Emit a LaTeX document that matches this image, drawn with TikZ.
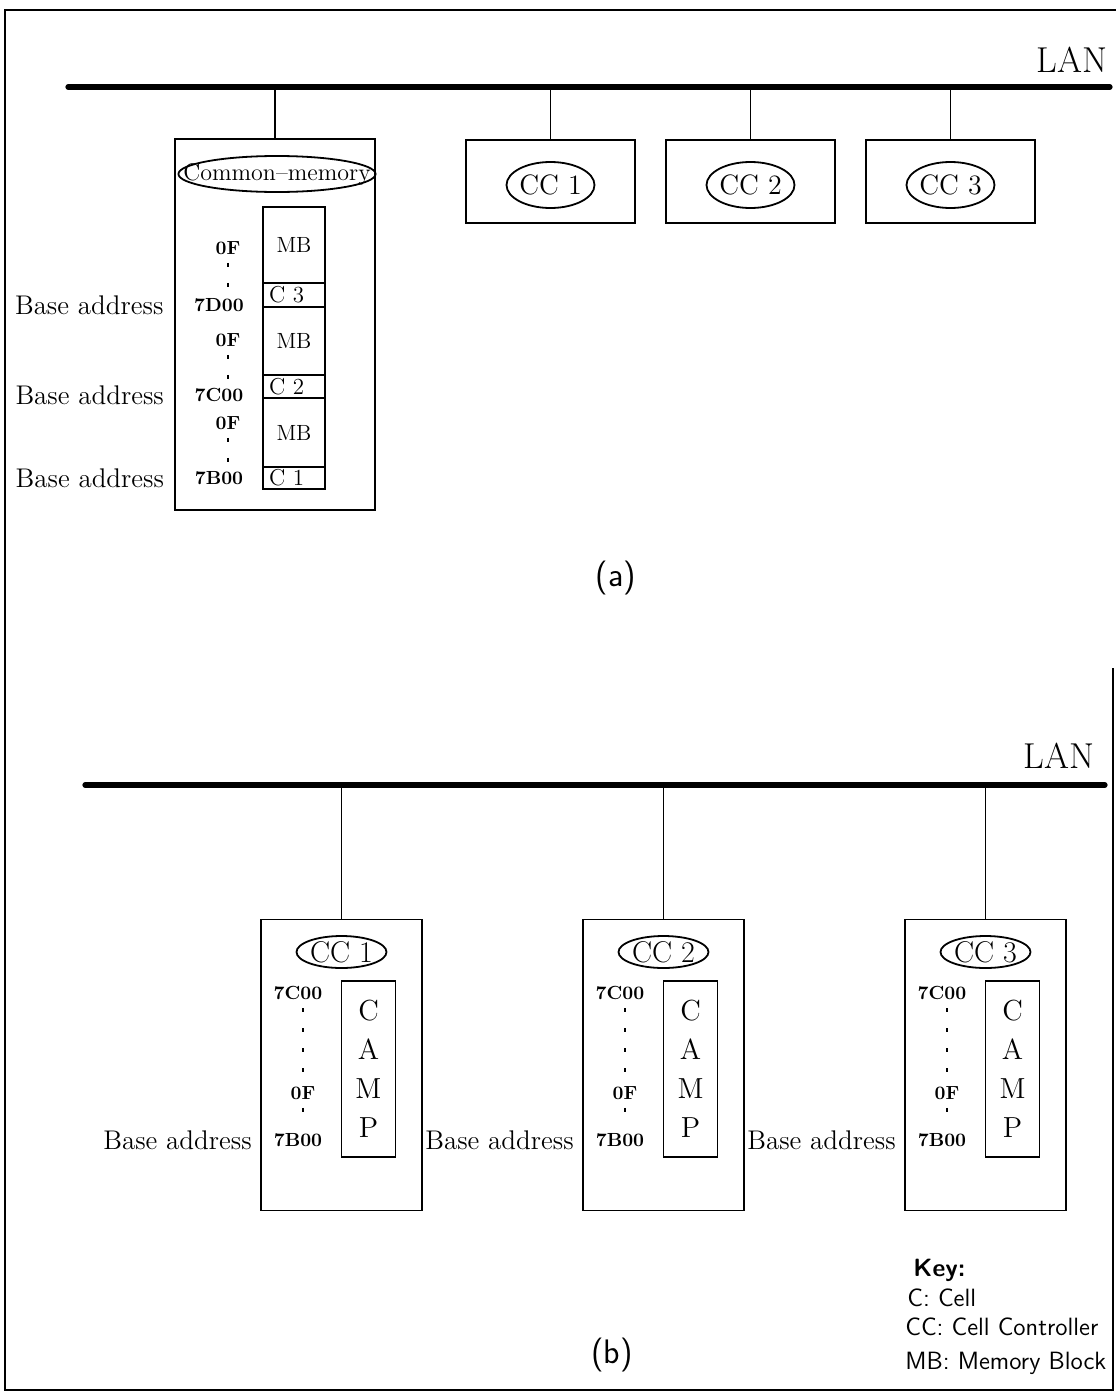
\documentclass[tikz,border=0pt]{standalone}
\usepackage{tikz}
\usetikzlibrary{positioning,shapes.geometric}
\newcommand{\fsz}[1]{\fontsize{#1}{#1}\selectfont}
% one cell controller of part (b): name, left edge, number
\newcommand{\cellunit}[3]{%
  \node[box, minimum width=80.5pt, minimum height=145.5pt] (#1) at ({#2+80.5},1065) {};
  \node[oval, minimum width=45pt, minimum height=16pt, font=\fsz{15}] (#1-cc) at ({#2+80.5},952) {CC #3};
  \node[box, minimum width=27pt, minimum height=88pt, align=center,
        font=\fontsize{14.5}{19.5}\selectfont] (#1-camp) at ({#2+107.5},1069) {C\\A\\M\\P};
  \node[hexlab] (#1-hi) at ({#2+37},993) {7C00};
  \node[hexlab] (#1-mid) at ({#2+42},1093) {0F};
  \node[hexlab] (#1-lo) at ({#2+37},1140) {7B00};
  \draw[dotline] (#1-hi.south -| #1-mid) -- (#1-mid.north);
  \draw[dotline] (#1-mid.south) -- (#1-mid.south |- #1-lo.north);
  \coordinate (#1-bl) at (#1.west |- #1-lo);
  \node[baselab, left=4pt of #1-bl] (#1-base) {Base address};
  \draw[drop] (#1.north) -- (#1.north |- busb-l);}

\begin{document}
\begin{tikzpicture}[x=0.5pt, y=-0.5pt,
  box/.style={draw, line width=0.9pt, inner sep=0pt},
  oval/.style={draw, ellipse, line width=0.9pt, inner sep=-12pt, minimum width=44pt,
               minimum height=23pt, font=\fsz{14}},
  hexlab/.style={font=\fsz{9.5}\bfseries, inner sep=1pt},
  baselab/.style={font=\fsz{13.5}, inner sep=0pt},
  dotline/.style={line width=1.1pt, dash pattern=on 2pt off 8pt, shorten <=3pt, shorten >=3pt},
  drop/.style={line width=0.8pt},
  bus/.style={line width=2.6pt, line cap=round},
  lanlab/.style={font=\fsz{18}, inner sep=0pt, anchor=base east},
  keylab/.style={font=\sffamily\fsz{12.5}, inner sep=0pt, anchor=west},
  sublab/.style={font=\sffamily\fsz{17}}]
  \useasboundingbox (0,0) rectangle (1116,1392);
  \draw[line width=0.9pt] (1113,668) -- (1113,1390) -- (5,1390) -- (5,10) -- (1116,10);

  % (a) common memory on the LAN
  \coordinate (busa-l) at (68,87);
  \coordinate (busa-r) at (1110,87);
  \draw[bus] (busa-l) -- (busa-r);
  \node[lanlab] (lana) at (1108,72) {LAN};
  \node[box, minimum width=100pt, minimum height=185.5pt] (cm) at (275,324.5) {};
  \draw[drop] (cm.north) -- (cm.north |- busa-l);
  \node[oval, minimum width=94.5pt, minimum height=18pt, font=\fsz{12}] (cmoval) at (277,174) {Common--memory};
  \foreach \n/\yc/\h in {3/245/38, 2/341/34, 1/432.5/34.5}
    \node[box, minimum width=31pt, minimum height=\h pt, font=\fsz{11}] (mb\n) at (294,\yc) {MB};
  \foreach \n/\yc/\h in {3/295/12, 2/386.5/11.5, 1/478/11}
    \node[box, minimum width=31pt, minimum height=\h pt, text width=25pt, align=left,
          font=\fsz{11.5}] (c\n) at (294,\yc) {C \n};
  \foreach \n/\ya/\yb/\hx in {3/248/305/7D00, 2/340/395/7C00, 1/423/478/7B00}{
    \node[hexlab] (of\n) at (228,\ya) {0F};
    \node[hexlab] (hx\n) at (219,\yb) {\hx};
    \draw[dotline] (of\n.south) -- (of\n.south |- hx\n.north);
    \node[baselab, left=14pt of hx\n] (basea\n) {Base address};}
  \foreach \i/\xc in {1/550.5, 2/750.5, 3/950.5}{
    \node[box, minimum width=84.5pt, minimum height=41.5pt] (cca\i) at (\xc,181.5) {};
    \node[oval] (ovala\i) at (\xc,185) {CC \i};
    \draw[drop] (cca\i.north) -- (cca\i.north |- busa-l);}
  \node[sublab] (suba) at (616,578) {(a)};

  % (b) a CAMP in every cell controller
  \coordinate (busb-l) at (85,785);
  \coordinate (busb-r) at (1105,785);
  \draw[bus] (busb-l) -- (busb-r);
  \node[lanlab] (lanb) at (1095,768) {LAN};
  \cellunit{cb1}{261}{1}
  \cellunit{cb2}{583}{2}
  \cellunit{cb3}{905}{3}
  \node[sublab] (subb) at (612,1355) {(b)};

  \node[keylab, font=\sffamily\bfseries\fsz{12.5}] (key) at (913,1270) {Key:};
  \node[keylab] (keyc) at (907,1298) {C: Cell};
  \node[keylab] (keycc) at (905,1327) {CC: Cell Controller};
  \node[keylab] (keymb) at (905,1363) {MB: Memory Block};
\end{tikzpicture}
\end{document}
